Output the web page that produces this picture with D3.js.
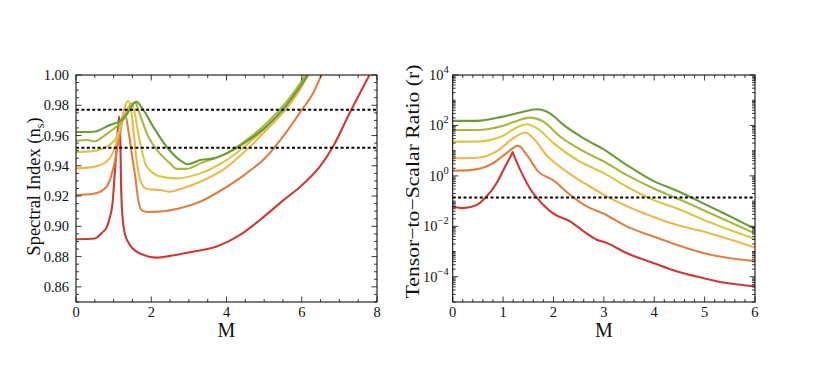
<!DOCTYPE html>
<html><head><meta charset="utf-8">
<script src="https://cdn.jsdelivr.net/npm/d3@7"></script>
<style>body{margin:0;background:#fff}svg{display:block}text{font-family:"Liberation Serif","Times New Roman",serif;fill:#111}</style>
</head><body><svg id="c" width="830" height="378"></svg>
<script>
// ---------- DATA ----------
const seriesNames = ["red","orange","lightOrange","yellow","yellowGreen","green"];
const seriesColors = ["#cc3a36","#dc8146","#ecb84c","#d9c74a","#a3b93f","#6d9b3b"];

// Left panel: spectral index n_s vs M  [M, n_s]
const nsRed = [[0,0.8915],[0.5,0.892],[0.7,0.896],[0.82,0.8995],[0.9,0.906],[0.97,0.915],[1.03,0.935],[1.08,0.952],[1.12,0.966],[1.15,0.9725],[1.18,0.955],[1.2,0.925],[1.24,0.905],[1.3,0.895],[1.4,0.889],[1.5,0.8855],[1.75,0.8815],[2.14,0.8793],[2.5,0.8805],[3.1,0.8832],[3.74,0.8866],[4.36,0.8943],[4.89,0.9042],[5.5,0.917],[5.95,0.926],[6.48,0.9394],[6.83,0.9526],[7.27,0.9747],[7.8,1.0]];
const nsOrange = [[0,0.9207],[0.46,0.9215],[0.77,0.925],[0.9,0.9306],[1.04,0.9438],[1.17,0.9615],[1.3,0.9745],[1.4,0.962],[1.5,0.945],[1.58,0.932],[1.65,0.918],[1.75,0.9105],[1.9,0.9095],[2.2,0.9097],[2.76,0.912],[3.3,0.9163],[4.0,0.926],[4.53,0.935],[5.06,0.946],[5.6,0.9626],[6.0,0.9769],[6.3,0.988],[6.52,1.0]];
const nsLightOrange = [[0,0.9383],[0.46,0.9393],[0.81,0.9427],[1.04,0.9526],[1.21,0.970],[1.3,0.979],[1.39,0.9828],[1.47,0.976],[1.53,0.963],[1.6,0.946],[1.7,0.931],[1.8,0.926],[1.92,0.9245],[2.23,0.924],[2.5,0.9229],[2.76,0.9245],[3.3,0.9295],[4.0,0.939],[4.53,0.9504],[5.06,0.9637],[5.6,0.978],[6.0,0.9923],[6.17,1.0]];
const nsYellow = [[0,0.949],[0.46,0.9497],[0.81,0.9526],[1.08,0.959],[1.26,0.971],[1.4,0.979],[1.48,0.9813],[1.56,0.975],[1.65,0.962],[1.75,0.95],[1.85,0.941],[1.96,0.9372],[2.23,0.933],[2.67,0.9317],[3.3,0.935],[4.0,0.9438],[4.53,0.9537],[5.06,0.9658],[5.6,0.980],[6.08,1.0]];
const nsYellowGreen = [[0,0.9566],[0.3,0.957],[0.5,0.9562],[0.7,0.959],[0.9,0.9626],[1.17,0.968],[1.35,0.9736],[1.5,0.981],[1.57,0.9817],[1.7,0.9736],[1.92,0.9593],[2.23,0.9482],[2.5,0.9416],[2.67,0.938],[2.94,0.938],[3.3,0.9416],[4.0,0.9482],[4.53,0.957],[5.06,0.968],[5.6,0.9824],[6.12,1.0]];
const nsGreen = [[0,0.9623],[0.46,0.9625],[0.9,0.967],[1.21,0.9703],[1.39,0.9758],[1.6,0.9824],[1.79,0.9769],[2.05,0.9659],[2.41,0.9526],[2.76,0.9438],[2.98,0.941],[3.3,0.9438],[3.65,0.9449],[4.0,0.9482],[4.53,0.956],[5.06,0.9659],[5.6,0.9802],[6.17,1.0]];
const nsBands = [0.977, 0.952];

// Right panel: tensor-to-scalar ratio, stored as log10(r)  [M, log10 r]
const rRed = [[0,-1.21],[0.21,-1.28],[0.48,-1.15],[0.67,-0.82],[0.87,-0.29],[1.05,0.4],[1.19,0.93],[1.34,0.24],[1.53,-0.49],[1.8,-1.15],[2,-1.5],[2.33,-1.8],[2.6,-2.2],[2.86,-2.53],[3.06,-2.66],[3.45,-3.06],[3.98,-3.45],[4.44,-3.78],[4.97,-4.05],[5.44,-4.25],[6,-4.38]];
const rOrange = [[0,0.21],[0.34,0.23],[0.8,0.5],[1.07,0.9],[1.3,1.2],[1.47,0.83],[1.7,0.17],[2,-0.18],[2.33,-0.75],[2.66,-1.21],[3,-1.5],[3.45,-2.0],[3.98,-2.4],[4.44,-2.73],[5.1,-3.12],[6,-3.38]];
const rLightOrange = [[0,0.70],[0.48,0.72],[0.87,0.97],[1.2,1.49],[1.44,1.72],[1.6,1.49],[1.86,0.83],[2.26,0.17],[2.72,-0.42],[3.12,-0.88],[3.78,-1.47],[4.44,-1.94],[5.1,-2.27],[6,-2.84]];
const rYellow = [[0,1.36],[0.48,1.36],[1,1.59],[1.25,1.9],[1.47,2.05],[1.67,1.89],[2,1.3],[2.46,0.64],[3,0.11],[3.45,-0.42],[3.98,-0.95],[4.44,-1.28],[5.1,-1.84],[6,-2.5]];
const rYellowGreen = [[0,1.82],[0.48,1.82],[1,1.99],[1.3,2.2],[1.53,2.31],[1.8,2.15],[2.13,1.56],[2.6,0.97],[3,0.57],[3.45,0.04],[3.98,-0.49],[4.44,-0.88],[5.1,-1.47],[6,-2.28]];
const rGreen = [[0,2.18],[0.48,2.18],[1,2.35],[1.34,2.51],[1.67,2.64],[1.93,2.48],[2.2,2.02],[2.6,1.49],[2.99,1.06],[3.45,0.44],[3.98,-0.2],[4.44,-0.58],[4.78,-0.9],[5.44,-1.54],[6,-2.1]];
const rBound = 0.14;
// index of the sharp (cusp) peak for each right-panel series, -1 if smooth
const rCuspIndex = [6,-1,-1,-1,-1,-1];

const leftXTicks = [0,2,4,6,8];
const leftYTicks = [0.86,0.88,0.90,0.92,0.94,0.96,0.98,1.00];
const rightXTicks = [0,1,2,3,4,5,6];
const rightYTickExps = [-4,-2,0,2,4];

const leftSeries = [nsRed,nsOrange,nsLightOrange,nsYellow,nsYellowGreen,nsGreen];
const rightSeries = [rRed,rOrange,rLightOrange,rYellow,rYellowGreen,rGreen];

// ---------- DRAW ----------
const svg = d3.select("#c");
const tickFont = 14.5;

function frameTicks(g, x, y, majX, minX, majY, minY, W, H){
  const L=5.5, l=3;
  const add=(x1,y1,x2,y2)=>g.append("line").attr("x1",x1).attr("y1",y1).attr("x2",x2).attr("y2",y2).attr("stroke","#222").attr("stroke-width",0.9);
  majX.forEach(v=>{const p=x(v); add(p,H,p,H-L); add(p,0,p,L);});
  minX.forEach(v=>{const p=x(v); add(p,H,p,H-l); add(p,0,p,l);});
  majY.forEach(v=>{const p=y(v); add(0,p,L,p); add(W,p,W-L,p);});
  minY.forEach(v=>{const p=y(v); add(0,p,l,p); add(W,p,W-l,p);});
  g.append("rect").attr("x",0).attr("y",0).attr("width",W).attr("height",H).attr("fill","none").attr("stroke","#111").attr("stroke-width",1.1);
}

// Left panel
{
  const X0=76, Y0=75, W=301, H=227;
  const g = svg.append("g").attr("transform",`translate(${X0},${Y0})`);
  const x = d3.scaleLinear().domain([0,8]).range([0,W]);
  const y = d3.scaleLinear().domain([0.85,1.0]).range([H,0]);
  const defs = svg.append("defs");
  defs.append("clipPath").attr("id","clipL").append("rect").attr("width",W).attr("height",H);
  const line = d3.line().x(d=>x(d[0])).y(d=>y(d[1])).curve(d3.curveMonotoneX);
  const pg = g.append("g").attr("clip-path","url(#clipL)");
  leftSeries.forEach((s,i)=>pg.append("path").attr("d",line(s)).attr("fill","none").attr("stroke",seriesColors[i]).attr("stroke-width",2.1).attr("stroke-linejoin","round"));
  nsBands.forEach(v=>g.append("line").attr("x1",0).attr("x2",W).attr("y1",y(v)).attr("y2",y(v)).attr("stroke","#000").attr("stroke-width",2).attr("stroke-dasharray","3,2.4"));
  const minX = d3.range(0,8.01,0.5).filter(v=>v%2!==0);
  const minY = d3.range(0.85,1.0001,0.005).map(v=>+v.toFixed(3)).filter(v=>!leftYTicks.some(t=>Math.abs(t-v)<1e-6));
  frameTicks(g,x,y,leftXTicks,minX,leftYTicks,minY,W,H);
  leftXTicks.forEach(v=>g.append("text").attr("x",x(v)).attr("y",H+15).attr("text-anchor","middle").attr("font-size",tickFont).text(v));
  leftYTicks.forEach(v=>g.append("text").attr("x",-7).attr("y",y(v)+5).attr("text-anchor","end").attr("font-size",tickFont).text(v.toFixed(2)));
  g.append("text").attr("x",W/2).attr("y",H+35).attr("text-anchor","middle").attr("font-size",20).text("M");
  const t = g.append("text").attr("transform",`translate(${-36},${H/2-2}) rotate(-90)`).attr("text-anchor","middle").attr("font-size",18.5);
  t.append("tspan").text("Spectral Index (n");
  t.append("tspan").attr("font-size",12).attr("dy",4).text("s");
  t.append("tspan").attr("dy",-4).text(")");
}

// Right panel
{
  const X0=452.7, Y0=75, W=302.3, H=227;
  const g = svg.append("g").attr("transform",`translate(${X0},${Y0})`);
  const x = d3.scaleLinear().domain([0,6]).range([0,W]);
  const y = d3.scaleLog().domain([1e-5,1e4]).range([H,0]);
  svg.select("defs").append("clipPath").attr("id","clipR").append("rect").attr("width",W).attr("height",H);
  const line = d3.line().x(d=>x(d[0])).y(d=>y(Math.pow(10,d[1]))).curve(d3.curveMonotoneX);
  const pg = g.append("g").attr("clip-path","url(#clipR)");
  rightSeries.forEach((s,i)=>{
    const k = rCuspIndex[i];
    const parts = k>0 ? [s.slice(0,k+1), s.slice(k)] : [s];
    parts.forEach(p=>pg.append("path").attr("d",line(p)).attr("fill","none").attr("stroke",seriesColors[i]).attr("stroke-width",2.1).attr("stroke-linejoin","round").attr("stroke-linecap","round"));
  });
  g.append("line").attr("x1",0).attr("x2",W).attr("y1",y(rBound)).attr("y2",y(rBound)).attr("stroke","#000").attr("stroke-width",2).attr("stroke-dasharray","3,2.4");
  const minX = d3.range(0,6.01,0.2).map(v=>+v.toFixed(1)).filter(v=>Math.abs(v-Math.round(v))>1e-6);
  const majY = rightYTickExps.map(e=>Math.pow(10,e));
  const minY = [];
  for(let e=-5;e<4;e++){ for(let m=1;m<10;m++){ const v=m*Math.pow(10,e); if(m===1 && rightYTickExps.includes(e)) continue; if(v>=1e-5 && v<=1e4) minY.push(v);} }
  frameTicks(g,x,y,rightXTicks,minX,majY,minY,W,H);
  rightXTicks.forEach(v=>g.append("text").attr("x",x(v)).attr("y",H+15).attr("text-anchor","middle").attr("font-size",tickFont).text(v));
  rightYTickExps.forEach(e=>{
    const t=g.append("text").attr("x",-4).attr("y",y(Math.pow(10,e))+5).attr("text-anchor","end").attr("font-size",tickFont);
    t.append("tspan").text("10");
    t.append("tspan").attr("font-size",10.5).attr("dy",-7).text(e<0?"\u2212"+(-e):String(e));
  });
  g.append("text").attr("x",W/2).attr("y",H+35).attr("text-anchor","middle").attr("font-size",20).text("M");
  g.append("text").attr("transform",`translate(${-34},${H/2-7}) rotate(-90)`).attr("text-anchor","middle").attr("font-size",19)
    .attr("textLength",234).attr("lengthAdjust","spacingAndGlyphs").text("Tensor\u2212to\u2212Scalar Ratio (r)");
}
</script></body></html>
